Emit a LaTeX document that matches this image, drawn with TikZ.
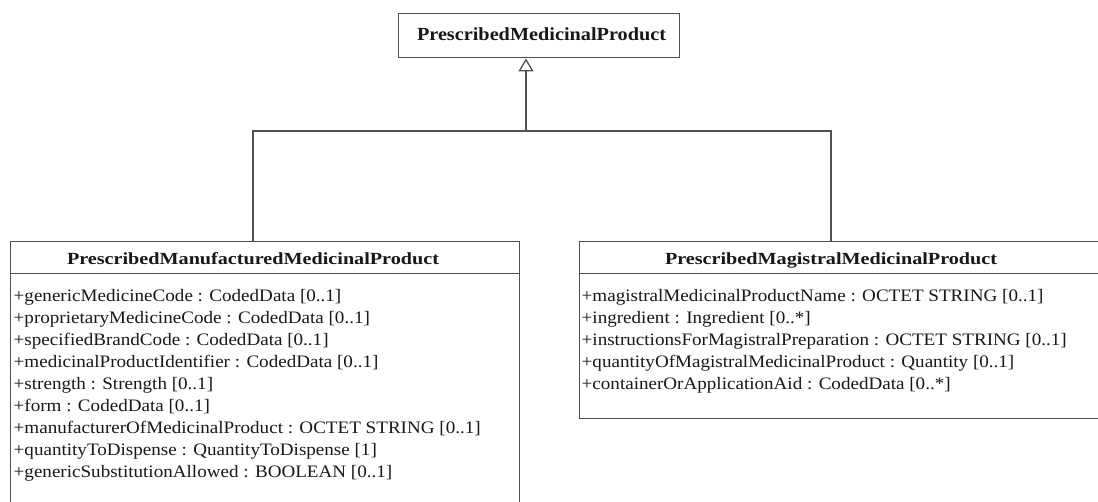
\documentclass[tikz,border=0pt]{standalone}
\usepackage{fontspec}
\usetikzlibrary{arrows.meta}
\newfontfamily\measfont{Liberation Serif}
\newsavebox\measbox
\sbox\measbox{\measfont\fontsize{17.5pt}{20pt}\selectfont +manufacturerOfMedicinalProduct : OCTET STRING [0..1]}
\edef\bodystretch{\fpeval{round(467/\wd\measbox,4)}}
\sbox\measbox{\measfont\bfseries\fontsize{17pt}{20pt}\selectfont PrescribedManufacturedMedicinalProduct}
\edef\headstretch{\fpeval{round(372/\wd\measbox,4)}}
\sbox\measbox{\measfont\bfseries\fontsize{18.5pt}{20pt}\selectfont PrescribedMedicinalProduct}
\edef\topstretch{\fpeval{round(249/\wd\measbox,4)}}
\edef\tmpdef{\noexpand\newfontfamily\noexpand\bodyfont[FakeStretch=\bodystretch]{Liberation Serif}}\tmpdef
\edef\tmpdef{\noexpand\newfontfamily\noexpand\headfont[FakeStretch=\headstretch]{Liberation Serif}}\tmpdef
\edef\tmpdef{\noexpand\newfontfamily\noexpand\topfont[FakeStretch=\topstretch]{Liberation Serif}}\tmpdef
\definecolor{linec}{HTML}{505050}
\definecolor{txtc}{HTML}{1A1718}
\begin{document}
\begin{tikzpicture}[x=1pt,y=-1pt,
  box/.style={draw=linec, line width=1.4pt, fill=white, inner sep=0pt, anchor=north west},
  headtxt/.style={inner sep=0pt, anchor=base, text=txtc, font=\headfont\bfseries\fontsize{17pt}{20pt}\selectfont},
  toptxt/.style={inner sep=0pt, anchor=base, text=txtc, font=\topfont\bfseries\fontsize{18.5pt}{20pt}\selectfont},
  attr/.style={inner sep=0pt, anchor=base west, text=txtc, font=\bodyfont\fontsize{17.5pt}{20pt}\selectfont},
  link/.style={draw=linec, line width=1.4pt},
  gen/.style={link, -{Triangle[open, width=15pt, length=13pt, line width=1.3pt]}}]
\useasboundingbox (0,0) rectangle (1098,501);
\clip (0,0) rectangle (1098,501);
% superclass
\node[box, minimum width=281pt, minimum height=44pt] (top) at (398,13) {};
\node[toptxt] (toptitle) at (541.5,40) {PrescribedMedicinalProduct};
% left class
\node[box, minimum width=509pt, minimum height=32pt] (lhead) at (10,241) {};
\node[box, minimum width=509pt, minimum height=260pt] (lbody) at (10,273) {};
\node[headtxt] (ltitle) at (253,264.5) {PrescribedManufacturedMedicinalProduct};
% right class
\node[box, minimum width=540pt, minimum height=32pt] (rhead) at (579,241) {};
\node[box, minimum width=540pt, minimum height=145pt] (rbody) at (579,273) {};
\node[headtxt] (rtitle) at (831,264.5) {PrescribedMagistralMedicinalProduct};
% left attributes
\node[attr] (la1) at (13.5,301) {+genericMedicineCode : CodedData [0..1]};
\node[attr] (la2) at (13.5,323.1) {+proprietaryMedicineCode : CodedData [0..1]};
\node[attr] (la3) at (13.5,345.2) {+specifiedBrandCode : CodedData [0..1]};
\node[attr] (la4) at (13.5,367.3) {+medicinalProductIdentifier : CodedData [0..1]};
\node[attr] (la5) at (13.5,389.4) {+strength : Strength [0..1]};
\node[attr] (la6) at (13.5,411.5) {+form : CodedData [0..1]};
\node[attr] (la7) at (13.5,433.6) {+manufacturerOfMedicinalProduct : OCTET STRING [0..1]};
\node[attr] (la8) at (13.5,455.7) {+quantityToDispense : QuantityToDispense [1]};
\node[attr] (la9) at (13.5,477.8) {+genericSubstitutionAllowed : BOOLEAN [0..1]};
% right attributes
\node[attr] (ra1) at (581.5,301) {+magistralMedicinalProductName : OCTET STRING [0..1]};
\node[attr] (ra2) at (581.5,323.1) {+ingredient : Ingredient [0..*]};
\node[attr] (ra3) at (581.5,345.2) {+instructionsForMagistralPreparation : OCTET STRING [0..1]};
\node[attr] (ra4) at (581.5,367.3) {+quantityOfMagistralMedicinalProduct : Quantity [0..1]};
\node[attr] (ra5) at (581.5,389.4) {+containerOrApplicationAid : CodedData [0..*]};
% generalization
\coordinate (j) at (526,131);
\coordinate (lx) at (253,0);
\coordinate (rx) at (831,0);
\draw[link] (lhead.north -| lx) |- (j) -| (rhead.north -| rx);
\draw[gen] (j) -- (j |- top.south);
\end{tikzpicture}
\end{document}
